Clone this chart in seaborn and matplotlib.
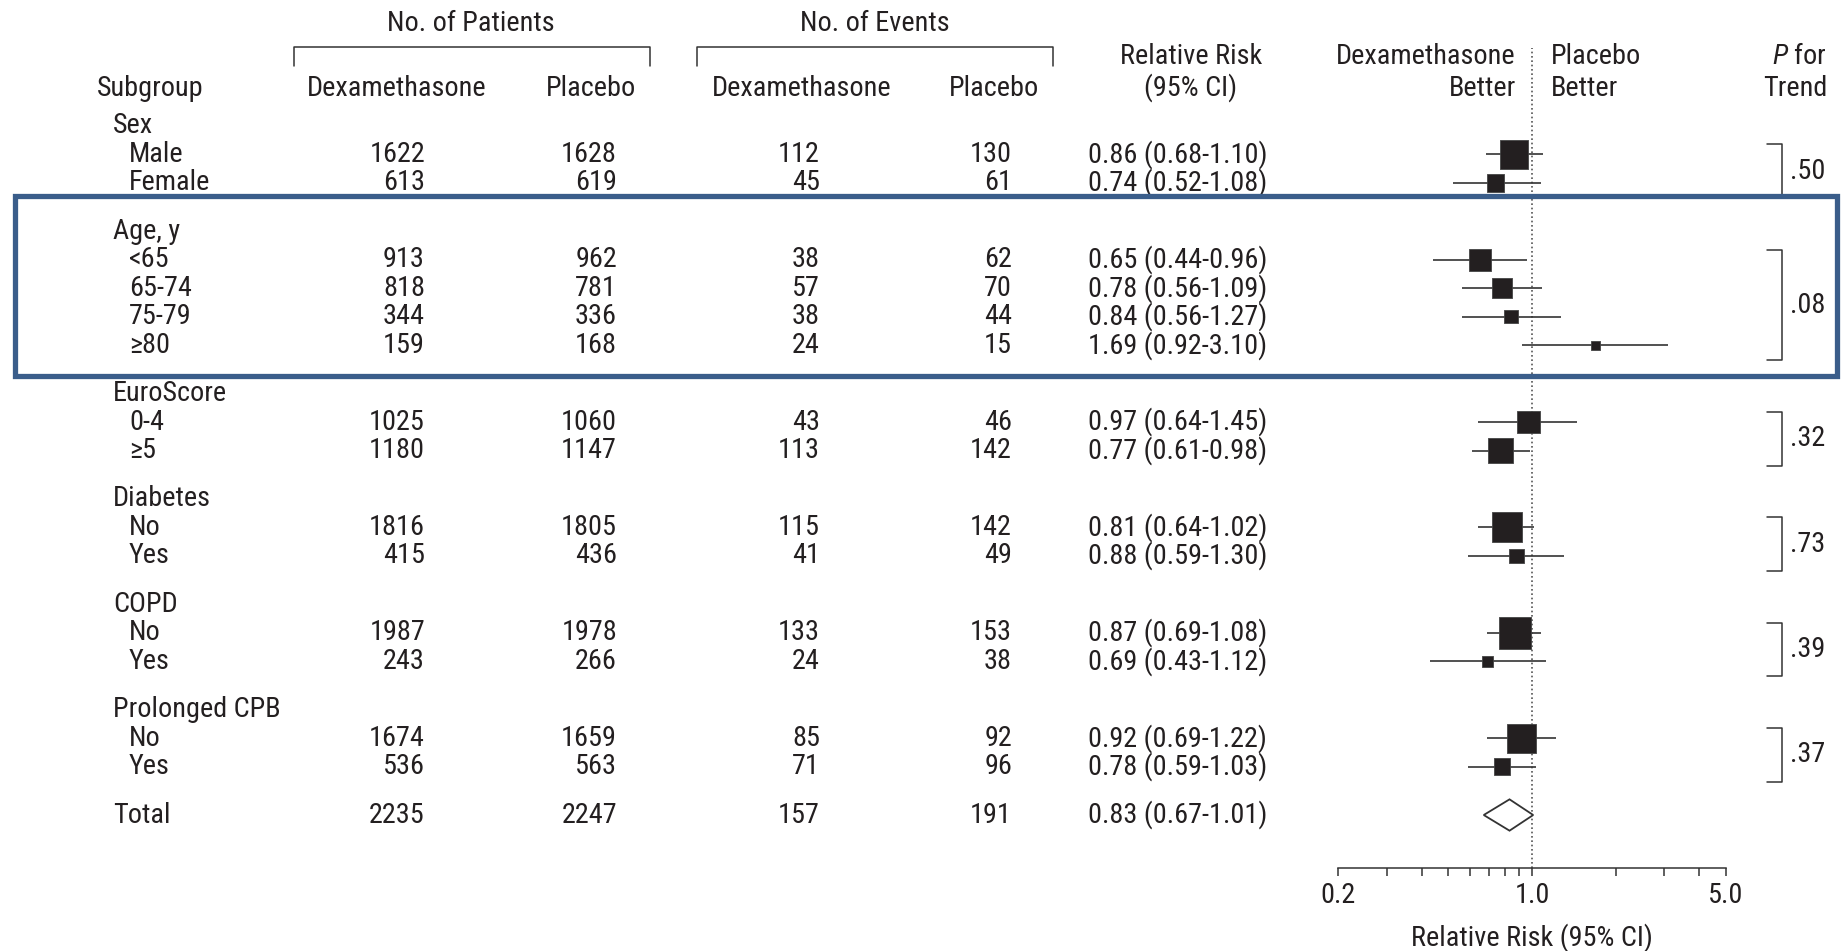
import matplotlib
matplotlib.use("Agg")
import numpy as np
import pandas as pd
import matplotlib.pyplot as plt
import seaborn as sns
from matplotlib import font_manager
from matplotlib.font_manager import FontProperties
from matplotlib.textpath import TextPath
from matplotlib.patches import Polygon, Rectangle
from matplotlib.ticker import FixedLocator, FixedFormatter, NullFormatter

# ---- data ---------------------------------------------------------------
groups = ["Sex", "Age, y", "EuroScore", "Diabetes", "COPD", "Prolonged CPB"]
subgroups = [["Male", "Female"], ["<65", "65-74", "75-79", "≥80"], ["0-4", "≥5"],
             ["No", "Yes"], ["No", "Yes"], ["No", "Yes"]]
pat_dexa = [[1622, 613], [913, 818, 344, 159], [1025, 1180], [1816, 415], [1987, 243], [1674, 536]]
pat_plac = [[1628, 619], [962, 781, 336, 168], [1060, 1147], [1805, 436], [1978, 266], [1659, 563]]
evt_dexa = [[112, 45], [38, 57, 38, 24], [43, 113], [115, 41], [133, 24], [85, 71]]
evt_plac = [[130, 61], [62, 70, 44, 15], [46, 142], [142, 49], [153, 38], [92, 96]]
rr = [[0.86, 0.74], [0.65, 0.78, 0.84, 1.69], [0.97, 0.77], [0.81, 0.88], [0.87, 0.69], [0.92, 0.78]]
rr_lo = [[0.68, 0.52], [0.44, 0.56, 0.56, 0.92], [0.64, 0.61], [0.64, 0.59], [0.69, 0.43], [0.69, 0.59]]
rr_hi = [[1.10, 1.08], [0.96, 1.09, 1.27, 3.10], [1.45, 0.98], [1.02, 1.30], [1.08, 1.12], [1.22, 1.03]]
p_trend = [".50", ".08", ".32", ".73", ".39", ".37"]

total_pat = [2235, 2247]
total_evt = [157, 191]
total_rr, total_lo, total_hi = 0.83, 0.67, 1.01

# ---- row layout -----------------------------------------------------------
GROUP_GAP = 1.7
rows = []
y = 0.0
for gi, g in enumerate(groups):
    rows.append(dict(kind="header", label=g, y=y, group=gi))
    for si, s in enumerate(subgroups[gi]):
        y += 1
        rows.append(dict(kind="item", label=s, y=y, group=gi,
                         pd_=pat_dexa[gi][si], pp=pat_plac[gi][si],
                         ed=evt_dexa[gi][si], ep=evt_plac[gi][si],
                         rr=rr[gi][si], lo=rr_lo[gi][si], hi=rr_hi[gi][si]))
    y += GROUP_GAP
total_y = y
df = pd.DataFrame(rows)
items = df[df.kind == "item"].copy()
items["n_total"] = items["pd_"] + items["pp"]

# ---- fonts / style -------------------------------------------------------
sns.set_theme(style="white")
names = {f.name for f in font_manager.fontManager.ttflist}
prefs = ["Nimbus Sans Narrow", "Roboto Condensed", "Archivo Narrow",
         "Liberation Sans Narrow", "Arial Narrow", "Liberation Sans"]
base_font = next(p for p in prefs if p in names)
# size the font so a column header spans about 176 px (127 pt at 100 dpi)
w10 = TextPath((0, 0), "Dexamethasone", size=10,
               prop=FontProperties(family=base_font)).get_extents().width
fs = 10 * 126.7 / w10

plt.rcParams["font.family"] = [base_font, "DejaVu Sans"]
plt.rcParams["mathtext.fontset"] = "custom"
plt.rcParams["mathtext.rm"] = base_font
plt.rcParams["mathtext.it"] = base_font + ":italic"

TXT = "#231f20"
LINE = "#333333"
BOX = "#3a5d8a"

# ---- figure & axes --------------------------------------------------------
fig = plt.figure(figsize=(18.45, 9.51), dpi=100)
ax_bottom, ax_top = 0.0873, 0.9495
y_top, y_bot = -2.735, 26.06

fax = fig.add_axes([0.7252, ax_bottom, 0.2103, ax_top - ax_bottom])
fax.set_facecolor("none")
tab = fig.add_axes([0, ax_bottom, 1, ax_top - ax_bottom], facecolor="none")
tab.set_xlim(0, 1845)
tab.set_ylim(y_bot, y_top)
tab.axis("off")

# ---- forest plot ----------------------------------------------------------
fax.axvline(1.0, color="#555555", ls=(0, (1, 1.6)), lw=1.2, zorder=1)
fax.hlines(items["y"], items["lo"], items["hi"], color=LINE, lw=1.2, zorder=2)
sns.scatterplot(data=items, x="rr", y="y", marker="s", s=items["n_total"].values * 0.13,
                color="#231f20", edgecolor="#444444", linewidth=0.6,
                ax=fax, zorder=3, legend=False)
half_h = 0.55
diamond = Polygon([(total_lo, total_y), (total_rr, total_y - half_h),
                   (total_hi, total_y), (total_rr, total_y + half_h)],
                  closed=True, facecolor="white", edgecolor=LINE, lw=1.3, zorder=3)
fax.add_patch(diamond)

fax.set_xscale("log")
fax.set_xlim(0.2, 5.0)
fax.set_ylim(y_bot, y_top)
fax.xaxis.set_major_locator(FixedLocator([0.2, 1.0, 5.0]))
fax.xaxis.set_major_formatter(FixedFormatter(["0.2", "1.0", "5.0"]))
fax.xaxis.set_minor_locator(FixedLocator([0.3, 0.4, 0.5, 0.6, 0.7, 0.8, 0.9, 2, 3, 4]))
fax.xaxis.set_minor_formatter(NullFormatter())
fax.tick_params(axis="x", which="both", direction="out", length=6, width=1.1,
                color=LINE, labelsize=fs, labelcolor=TXT, pad=4, bottom=True)
fax.set_yticks([])
fax.set_ylabel("")
for side in ("left", "top", "right"):
    fax.spines[side].set_visible(False)
fax.spines["bottom"].set_color(LINE)
fax.spines["bottom"].set_linewidth(1.1)
fax.set_xlabel("Relative Risk (95% CI)", fontsize=fs, color=TXT, labelpad=10)

# ---- table text -----------------------------------------------------------
X_HEAD, X_ITEM = 113, 129
X_PD, X_PP, X_ED, X_EP, X_RR = 425, 617, 820, 1012, 1267

def put(x, y, s, ha="left", **kw):
    tab.text(x, y, s, ha=ha, va="center", fontsize=kw.pop("size", fs), color=TXT, **kw)

for _, r in df.iterrows():
    if r.kind == "header":
        put(X_HEAD, r.y, r.label)
    else:
        put(X_ITEM, r.y, r.label)
        put(X_PD, r.y, f"{int(r.pd_)}", ha="right")
        put(X_PP, r.y, f"{int(r.pp)}", ha="right")
        put(X_ED, r.y, f"{int(r.ed)}", ha="right")
        put(X_EP, r.y, f"{int(r.ep)}", ha="right")
        put(X_RR, r.y, f"{r.rr:.2f} ({r.lo:.2f}-{r.hi:.2f})", ha="right")

put(X_HEAD, total_y, "Total")
put(X_PD, total_y, f"{total_pat[0]}", ha="right")
put(X_PP, total_y, f"{total_pat[1]}", ha="right")
put(X_ED, total_y, f"{total_evt[0]}", ha="right")
put(X_EP, total_y, f"{total_evt[1]}", ha="right")
put(X_RR, total_y, f"{total_rr:.2f} ({total_lo:.2f}-{total_hi:.2f})", ha="right")

# column headers
H1, H2, H0 = -2.44, -1.33, -3.6
put(471, H0, "No. of Patients", ha="center")
put(875, H0, "No. of Events", ha="center")
for x0, x1 in [(294, 650), (697, 1053)]:
    tab.plot([x0, x0, x1, x1], [-2.1, -2.77, -2.77, -2.1], color=LINE, lw=1.1, clip_on=False)
put(97, H2, "Subgroup")
put(397, H2, "Dexamethasone", ha="center")
put(591, H2, "Placebo", ha="center")
put(802, H2, "Dexamethasone", ha="center")
put(994, H2, "Placebo", ha="center")
put(1191, H1, "Relative Risk", ha="center")
put(1191, H2, "(95% CI)", ha="center")
put(1516, H1, "Dexamethasone", ha="right")
put(1516, H2, "Better", ha="right")
put(1551, H1, "Placebo")
put(1551, H2, "Better")
put(1827, H1, r"$\mathit{P}$ for", ha="right")
put(1827, H2, "Trend", ha="right")

# P for trend brackets
for gi in range(len(groups)):
    ys = items.loc[items.group == gi, "y"]
    top, bot = ys.min() - 0.35, ys.max() + 0.53
    tab.plot([1767, 1782, 1782, 1767], [top, top, bot, bot], color=LINE, lw=1.1)
    put(1790, (top + bot) / 2, p_trend[gi])

# highlighted age block
tab.add_patch(Rectangle((15, 2.46), 1822, 8.8 - 2.46, fill=False,
                        edgecolor=BOX, lw=3.8, zorder=5))

fig.savefig("out.png", dpi=100, facecolor="white")
